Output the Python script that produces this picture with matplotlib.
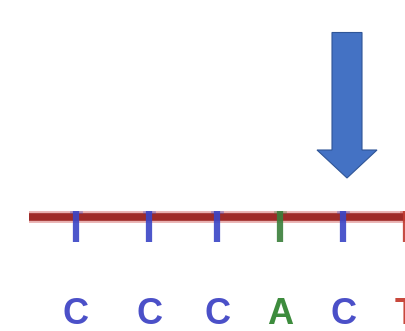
import matplotlib
matplotlib.use("Agg")
import matplotlib.pyplot as plt
from matplotlib.patches import FancyArrow

# called bases and their peak positions along the trace (pixels)
bases = ["C", "C", "C", "A", "C", "T"]
peak_pos = [76, 149, 217, 280, 343, 406]
BASE_COL = {"C": "#4b50c8", "A": "#3d8c3d", "T": "#c8483c", "G": "#222222"}
TICK_COL = {"C": "#3a45c6", "A": "#3a7f3a", "T": "#c03a30", "G": "#222222"}

# position of the highlighted base (arrow)
mark_pos = 347

W, H = 405, 331
fig = plt.figure(figsize=(W / 100, H / 100), dpi=100)
ax = fig.add_axes([0, 0, 1, 1])
ax.set_xlim(0, W)
ax.set_ylim(H, 0)
ax.axis("off")

# baseline of the trace
ax.plot([29, W + 5], [217, 217], color="#e8b0b0", lw=8.5, solid_capstyle="butt", zorder=2)
ax.plot([29, W + 5], [217, 217], color="#9e2b28", lw=5.5, solid_capstyle="butt", zorder=3)

for b, x in zip(bases, peak_pos):
    ax.plot([x, x], [211, 242], color=TICK_COL[b], lw=4.5, solid_capstyle="butt", zorder=4, alpha=0.9)
    ax.plot([x - 5, x + 5], [212, 212], color=TICK_COL[b], lw=2, alpha=0.35, zorder=4)
    ax.text(x, 314, b, color=BASE_COL[b], fontsize=26, fontweight="bold",
            family=["Liberation Sans", "DejaVu Sans"], ha="center", va="center", zorder=5)

ax.add_patch(FancyArrow(mark_pos, 32.5, 0, 145.5, width=30, head_width=60, head_length=28,
                        length_includes_head=True, facecolor="#4472c4", edgecolor="#2f5597",
                        lw=0.8, zorder=6))

fig.savefig("out.png", dpi=100)
